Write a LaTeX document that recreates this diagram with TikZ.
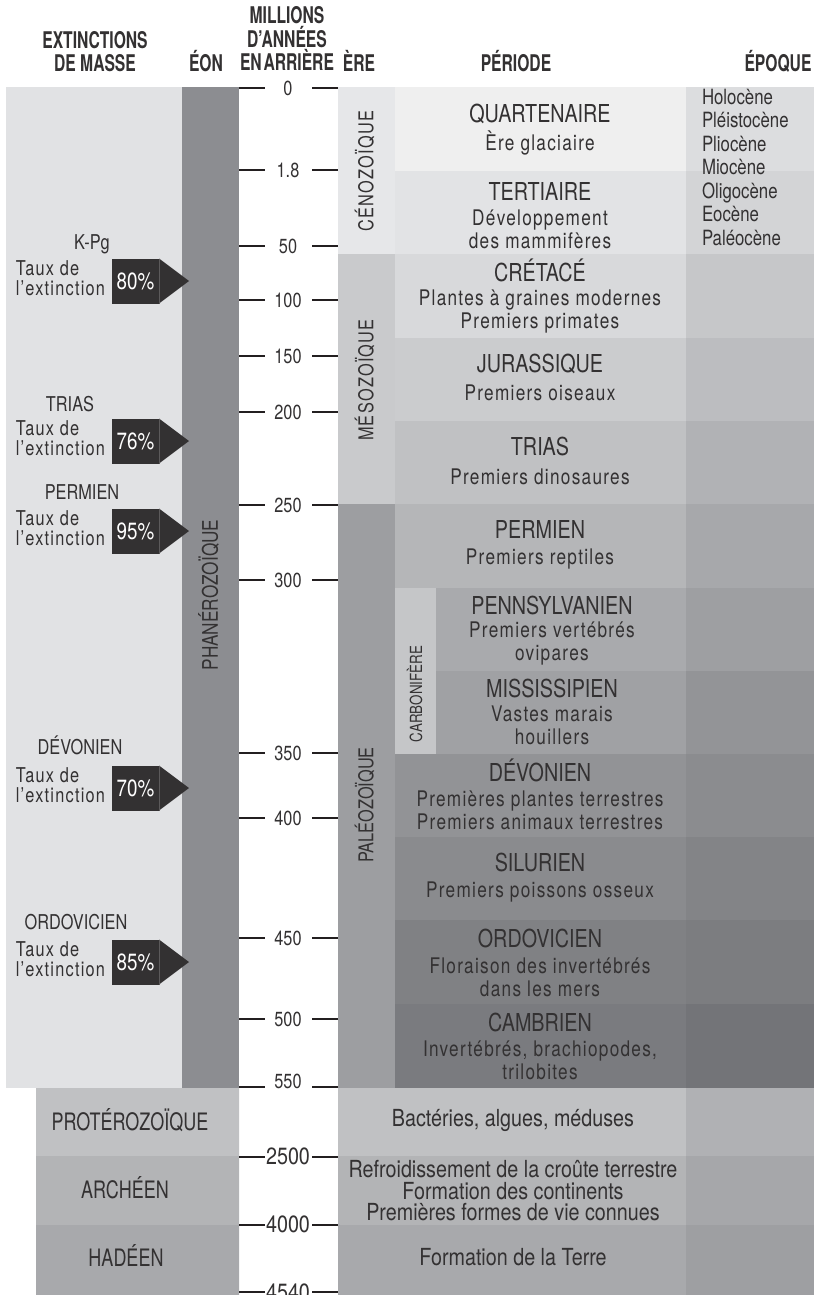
\documentclass[tikz,border=0pt]{standalone}
\usepackage{fontspec}
\setmainfont{TeX Gyre Heros}[FakeStretch=0.8]
\newfontfamily\headfont{TeX Gyre Heros}[FakeStretch=0.68]
\newfontfamily\spacedfont{TeX Gyre Heros}[FakeStretch=0.8, LetterSpace=6]
\newfontfamily\lowfont{TeX Gyre Heros}[FakeStretch=0.84]
\newfontfamily\lowcapsfont{TeX Gyre Heros}[FakeStretch=0.75]
\usetikzlibrary{positioning}

\definecolor{ink}{HTML}{333132}
\definecolor{tickink}{HTML}{231F20}
\definecolor{seamgray}{HTML}{5C5A5B}
\definecolor{panel}{HTML}{E1E2E4}
\definecolor{eonbar}{HTML}{8C8D91}
\definecolor{cenoz}{HTML}{E6E7E9}
\definecolor{mesoz}{HTML}{C9CACC}
\definecolor{paleoz}{HTML}{9D9EA1}
\definecolor{carbon}{HTML}{C5C6C8}
\definecolor{quatcol}{HTML}{EFEFEF}\definecolor{quatep}{HTML}{DCDDDF}
\definecolor{tertcol}{HTML}{E2E3E5}\definecolor{tertep}{HTML}{D3D4D6}
\definecolor{cretcol}{HTML}{D8D9DB}\definecolor{cretep}{HTML}{C6C7C9}
\definecolor{juracol}{HTML}{CBCCCE}\definecolor{juraep}{HTML}{BCBDC0}
\definecolor{triacol}{HTML}{C0C1C3}\definecolor{triaep}{HTML}{B1B2B5}
\definecolor{permcol}{HTML}{B5B6B8}\definecolor{permep}{HTML}{A7A8AB}
\definecolor{penncol}{HTML}{A9AAAD}\definecolor{pennep}{HTML}{9E9FA2}
\definecolor{misscol}{HTML}{A0A1A4}\definecolor{missep}{HTML}{939497}
\definecolor{devocol}{HTML}{929396}\definecolor{devoep}{HTML}{8B8C8F}
\definecolor{silucol}{HTML}{8A8B8E}\definecolor{siluep}{HTML}{838487}
\definecolor{ordocol}{HTML}{808184}\definecolor{ordoep}{HTML}{7C7D80}
\definecolor{cambcol}{HTML}{7A7B7F}\definecolor{cambep}{HTML}{737478}
\definecolor{protcol}{HTML}{C0C1C3}\definecolor{protep}{HTML}{B0B1B4}
\definecolor{archcol}{HTML}{B3B4B6}\definecolor{archep}{HTML}{A6A7AA}
\definecolor{hadecol}{HTML}{A8A9AC}\definecolor{hadeep}{HTML}{9E9FA2}

\begin{document}
\begin{tikzpicture}[x=1pt, y=-1pt,
    every node/.style={text=ink, inner sep=0pt, outer sep=0pt},
    colhead/.style={font=\headfont\bfseries\fontsize{23}{23.5}\selectfont, align=center},
    colheadone/.style={font=\headfont\bfseries\fontsize{23}{23.5}\selectfont, text height=16.5pt, text depth=0pt},
    pertitle/.style={font=\fontsize{24.7}{26}\selectfont, text height=17.8pt, text depth=0pt},
    desc/.style={font=\spacedfont\fontsize{21.5}{23}\selectfont, align=center},
    epoch/.style={font=\fontsize{21}{23.5}\selectfont, align=left, anchor=west},
    tlab/.style={font=\fontsize{20.4}{20.4}\selectfont, text height=14.6pt, text depth=0pt},
    tlablow/.style={font=\lowfont\fontsize{23.5}{23.5}\selectfont, text height=16.8pt, text depth=0pt},
    tickline/.style={line width=2pt, draw=tickink},
    extlab/.style={font=\fontsize{20.4}{20.4}\selectfont, text height=14.7pt, text depth=0pt},
    taux/.style={font=\spacedfont\fontsize{20.4}{20.5}\selectfont, align=left},
    rate/.style={fill=ink, text=white, minimum width=47pt, minimum height=45pt, font=\fontsize{23.5}{23.5}\selectfont},
    seam/.style={draw=seamgray, line width=0.8pt},
    eralab/.style={rotate=90, font=\spacedfont\fontsize{20.4}{20.4}\selectfont, text height=14.7pt, text depth=0pt},
    lowcap/.style={font=\lowcapsfont\fontsize{24}{24}\selectfont, text height=17.3pt, text depth=0pt},
    low/.style={font=\lowfont\fontsize{23.5}{21.5}\selectfont, align=center}]
    \useasboundingbox (0,0) rectangle (814,1295);

    % Define bands
    \fill[panel] (6,87) rectangle (182,1088);
    \fill[eonbar] (182,87) rectangle (239,1088);
    \fill[cenoz] (338,87) rectangle (395,254);
    \fill[mesoz] (338,254) rectangle (395,504);
    \fill[paleoz] (338,504) rectangle (395,1088);
    \fill[quatcol] (395,87) rectangle (686,171);    \fill[quatep] (686,87) rectangle (814,171);
    \fill[tertcol] (395,171) rectangle (686,254);   \fill[tertep] (686,171) rectangle (814,254);
    \fill[cretcol] (395,254) rectangle (686,338);   \fill[cretep] (686,254) rectangle (814,338);
    \fill[juracol] (395,338) rectangle (686,421);   \fill[juraep] (686,338) rectangle (814,421);
    \fill[triacol] (395,421) rectangle (686,504);   \fill[triaep] (686,421) rectangle (814,504);
    \fill[permcol] (395,504) rectangle (686,588);   \fill[permep] (686,504) rectangle (814,588);
    \fill[penncol] (395,588) rectangle (686,671);   \fill[pennep] (686,588) rectangle (814,671);
    \fill[misscol] (395,671) rectangle (686,754);   \fill[missep] (686,671) rectangle (814,754);
    \fill[devocol] (395,754) rectangle (686,837);   \fill[devoep] (686,754) rectangle (814,837);
    \fill[silucol] (395,837) rectangle (686,920);   \fill[siluep] (686,837) rectangle (814,920);
    \fill[ordocol] (395,920) rectangle (686,1004);  \fill[ordoep] (686,920) rectangle (814,1004);
    \fill[cambcol] (395,1004) rectangle (686,1088); \fill[cambep] (686,1004) rectangle (814,1088);
    \fill[carbon] (395,588) rectangle (436,754);
    \fill[protcol] (36,1088) rectangle (239,1156) (338,1088) rectangle (686,1156);
    \fill[protep] (686,1088) rectangle (814,1156);
    \fill[archcol] (36,1156) rectangle (239,1225) (338,1156) rectangle (686,1225);
    \fill[archep] (686,1156) rectangle (814,1225);
    \fill[hadecol] (36,1225) rectangle (239,1295) (338,1225) rectangle (686,1295);
    \fill[hadeep] (686,1225) rectangle (814,1295);

    % Define headings
    \node[colhead] (hmass) at (95,51.5) {EXTINCTIONS\\DE MASSE};
    \node[colheadone] (heon) at (206,63) {ÉON};
    \node[colhead] (hyears) at (287,38.5) {MILLIONS\\D’ANNÉES\\EN\hspace{0.08em}ARRIÈRE};
    \node[colheadone] (hera) at (359,63) {ÈRE};
    \node[colheadone] (hperiod) at (516,63) {PÉRIODE};
    \node[colheadone] (hepoch) at (778,63) {ÉPOQUE};

    % Define time scale
    \node[tlab] (t0) at (288,88) {0};       \draw[tickline] (239,88) -- (265,88) (312,88) -- (338,88);
    \node[tlab] (t1) at (288,170) {1.8};    \draw[tickline] (239,170) -- (265,170) (312,170) -- (338,170);
    \node[tlab] (t2) at (288,246) {50};     \draw[tickline] (239,246) -- (265,246) (312,246) -- (338,246);
    \node[tlab] (t3) at (288,300) {100};    \draw[tickline] (239,300) -- (265,300) (312,300) -- (338,300);
    \node[tlab] (t4) at (288,356) {150};    \draw[tickline] (239,356) -- (265,356) (312,356) -- (338,356);
    \node[tlab] (t5) at (288,412) {200};    \draw[tickline] (239,412) -- (265,412) (312,412) -- (338,412);
    \node[tlab] (t6) at (288,505) {250};    \draw[tickline] (239,505) -- (265,505) (312,505) -- (338,505);
    \node[tlab] (t7) at (288,580) {300};    \draw[tickline] (239,580) -- (265,580) (312,580) -- (338,580);
    \node[tlab] (t8) at (288,753) {350};    \draw[tickline] (239,753) -- (265,753) (312,753) -- (338,753);
    \node[tlab] (t9) at (288,818) {400};    \draw[tickline] (239,818) -- (265,818) (312,818) -- (338,818);
    \node[tlab] (t10) at (288,938) {450};   \draw[tickline] (239,938) -- (265,938) (312,938) -- (338,938);
    \node[tlab] (t11) at (288,1019) {500};  \draw[tickline] (239,1019) -- (265,1019) (312,1019) -- (338,1019);
    \node[tlab] (t12) at (288,1081) {550};  \draw[tickline] (239,1087) -- (265,1087) (312,1087) -- (338,1087);
    \node[tlablow] (t13) at (288,1156) {2500}; \draw[tickline] (239,1157) -- (265,1157) (312,1157) -- (338,1157);
    \node[tlablow] (t14) at (288,1224) {4000}; \draw[tickline] (239,1225) -- (265,1225) (312,1225) -- (338,1225);
    \node[tlablow] (t15) at (288,1292) {4540}; \draw[tickline] (239,1292) -- (265,1292) (312,1292) -- (338,1292);

    % Define eons and eras
    \node[eralab, font=\fontsize{21.5}{21.5}\selectfont, text height=15.5pt] (phan) at (210,595) {PHANÉROZOÏQUE};
    \node[eralab] (ceno) at (366,171) {CÉNOZOÏQUE};
    \node[eralab] (meso) at (366,380) {MÉSOZOÏQUE};
    \node[eralab, font=\fontsize{20.4}{20.4}\selectfont] (paleo) at (366,805) {PALÉOZOÏQUE};
    \node[eralab, font=\fontsize{16.7}{16.7}\selectfont, text height=12pt] (carb) at (416,694) {CARBONIFÈRE};

    % Define periods
    \node[pertitle] (quat) at (540,114) {QUARTENAIRE};
    \node[desc] (quatd) at (540,143) {Ère glaciaire};
    \node[pertitle] (tert) at (540,192) {TERTIAIRE};
    \node[desc] (tertd) at (540,229) {Développement\\des mammifères};
    \node[pertitle] (cret) at (540,273) {CRÉTACÉ};
    \node[desc] (cretd) at (540,311.5) {Plantes à graines modernes\\Premiers primates};
    \node[pertitle] (jura) at (540,364) {JURASSIQUE};
    \node[desc] (jurad) at (540,393) {Premiers oiseaux};
    \node[pertitle] (tria) at (540,447) {TRIAS};
    \node[desc] (triad) at (540,477) {Premiers dinosaures};
    \node[pertitle] (perm) at (540,530) {PERMIEN};
    \node[desc] (permd) at (540,559) {Premiers reptiles};
    \node[pertitle] (penn) at (552,606) {PENNSYLVANIEN};
    \node[desc] (pennd) at (552,643.5) {Premiers vertébrés\\ovipares};
    \node[pertitle] (miss) at (552,689) {MISSISSIPIEN};
    \node[desc] (missd) at (552,725.5) {Vastes marais\\houillers};
    \node[pertitle] (devo) at (540,773) {DÉVONIEN};
    \node[desc] (devod) at (540,810.5) {Premières plantes terrestres\\Premiers animaux terrestres};
    \node[pertitle] (silu) at (540,863) {SILURIEN};
    \node[desc] (silud) at (540,892) {Premiers poissons osseux};
    \node[pertitle] (ordo) at (540,939) {ORDOVICIEN};
    \node[desc] (ordod) at (540,977) {Floraison des invertébrés\\dans les mers};
    \node[pertitle] (camb) at (540,1023) {CAMBRIEN};
    \node[desc] (cambd) at (540,1060) {Invertébrés, brachiopodes,\\trilobites};

    % Define epochs
    \node[epoch] (epochs) at (702,167.5) {Holocène\\Pléistocène\\Pliocène\\Miocène\\Oligocène\\Eocène\\Paléocène};

    % Define precambrian
    \node[lowcap] (prot) at (130,1122) {PROTÉROZOÏQUE};
    \node[lowcap] (arch) at (125,1190) {ARCHÉEN};
    \node[lowcap] (hade) at (126,1258) {HADÉEN};
    \node[low] (protd) at (513,1120) {Bactéries, algues, méduses};
    \node[low] (archd) at (513,1191) {Refroidissement de la croûte terrestre\\Formation des continents\\Premières formes de vie connues};
    \node[low] (haded) at (513,1257) {Formation de la Terre};

    % Define mass extinctions
    \node[extlab] (kpglab) at (92,242) {K-Pg};
    \node[rate] (kpgrate) at (135.5,281) {80\%};
    \node[taux, left=7pt of kpgrate, yshift=3pt] (kpgtaux) {Taux de\\l’extinction};
    \fill[ink] (kpgrate.north east) -- ++(30,22.5) -- (kpgrate.south east) -- cycle;
    \draw[seam] (kpgrate.north east) -- (kpgrate.south east);

    \node[extlab] (trialab) at (70,404) {TRIAS};
    \node[rate] (triarate) at (135.5,441) {76\%};
    \node[taux, left=7pt of triarate, yshift=3pt] (triataux) {Taux de\\l’extinction};
    \fill[ink] (triarate.north east) -- ++(30,22.5) -- (triarate.south east) -- cycle;
    \draw[seam] (triarate.north east) -- (triarate.south east);

    \node[extlab] (permlab) at (82,492) {PERMIEN};
    \node[rate] (permrate) at (135.5,531) {95\%};
    \node[taux, left=7pt of permrate, yshift=3pt] (permtaux) {Taux de\\l’extinction};
    \fill[ink] (permrate.north east) -- ++(30,22.5) -- (permrate.south east) -- cycle;
    \draw[seam] (permrate.north east) -- (permrate.south east);

    \node[extlab] (devolab) at (80,747) {DÉVONIEN};
    \node[rate] (devorate) at (135.5,788) {70\%};
    \node[taux, left=7pt of devorate, yshift=3pt] (devotaux) {Taux de\\l’extinction};
    \fill[ink] (devorate.north east) -- ++(30,22.5) -- (devorate.south east) -- cycle;
    \draw[seam] (devorate.north east) -- (devorate.south east);

    \node[extlab] (ordolab) at (76,922) {ORDOVICIEN};
    \node[rate] (ordorate) at (135.5,962) {85\%};
    \node[taux, left=7pt of ordorate, yshift=3pt] (ordotaux) {Taux de\\l’extinction};
    \fill[ink] (ordorate.north east) -- ++(30,22.5) -- (ordorate.south east) -- cycle;
    \draw[seam] (ordorate.north east) -- (ordorate.south east);
\end{tikzpicture}
\end{document}
